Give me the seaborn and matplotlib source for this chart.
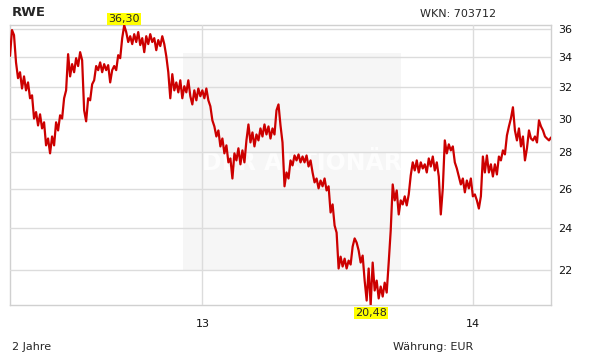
import numpy as np
import pandas as pd
import matplotlib
matplotlib.use("Agg")
import matplotlib.pyplot as plt
from matplotlib.patches import Rectangle
import seaborn as sns

# ---- data ----
start_date = "2012-04-16"
end_date = "2014-04-17"
prices = [
    34.10, 35.95, 35.58, 33.65, 32.58, 32.98, 31.90, 32.70, 31.78, 32.30,
    31.27, 31.46, 30.00, 30.40, 29.58, 30.26, 29.40, 29.77, 28.40, 28.80,
    27.94, 28.92, 28.40, 29.77, 29.28, 30.20, 30.00, 31.27, 31.78, 34.22,
    32.70, 33.53, 32.98, 33.94, 33.40, 34.36, 33.80, 30.51, 29.83, 31.27,
    31.14, 32.18, 32.44, 33.40, 33.12, 33.65, 32.98, 33.53, 33.12, 33.46,
    32.30, 33.12, 33.40, 33.12, 34.15, 33.94, 35.36, 36.30, 35.80, 35.08,
    35.50, 34.93, 35.65, 35.08, 35.80, 34.86, 35.36, 34.36, 35.50, 34.93,
    35.65, 35.08, 35.36, 34.50, 35.22, 34.79, 35.50, 34.93, 34.08, 32.98,
    31.27, 32.85, 31.78, 32.30, 31.65, 32.44, 31.27, 32.05, 31.65, 32.44,
    31.40, 30.88, 31.78, 31.14, 31.90, 31.40, 31.78, 31.27, 31.90, 31.14,
    30.76, 29.89, 29.52, 28.92, 29.28, 28.34, 28.80, 27.94, 28.40, 27.43,
    27.65, 26.54, 27.94, 27.54, 28.23, 27.32, 28.11, 27.43, 28.69, 29.64,
    28.57, 29.16, 28.34, 29.04, 28.69, 29.40, 28.92, 29.64, 29.04, 29.52,
    28.80, 29.40, 29.04, 30.51, 30.88, 29.58, 28.57, 26.12, 26.87, 26.54,
    27.54, 27.26, 27.82, 27.54, 27.88, 27.43, 27.76, 27.43, 27.82, 27.20,
    27.54, 26.87, 26.33, 26.54, 26.01, 26.43, 26.12, 26.54, 25.90, 26.12,
    24.76, 25.17, 24.11, 23.76, 22.08, 22.62, 22.17, 22.53, 22.08, 22.44,
    22.26, 23.09, 23.48, 23.28, 22.91, 22.35, 22.67, 21.54, 20.68, 22.08,
    20.48, 22.35, 21.11, 21.54, 20.77, 21.28, 20.85, 21.45, 21.02, 22.35,
    23.86, 26.22, 25.38, 25.90, 24.66, 25.38, 25.17, 25.59, 25.12, 25.69,
    26.71, 27.43, 26.98, 27.54, 26.87, 27.43, 27.09, 27.32, 26.87, 27.65,
    27.20, 27.76, 26.98, 27.43, 26.65, 24.66, 26.01, 28.69, 27.94, 28.46,
    28.11, 28.34, 27.43, 27.09, 26.65, 26.22, 26.54, 25.80, 26.43, 26.01,
    26.54, 25.59, 25.69, 25.38, 24.96, 25.59, 27.76, 26.87, 27.82, 26.87,
    27.32, 26.65, 27.32, 26.76, 27.76, 27.54, 28.11, 27.88, 28.98, 29.52,
    30.01, 30.70, 29.28, 28.69, 29.40, 28.34, 28.92, 27.54, 28.23, 29.28,
    28.80, 28.69, 28.92, 28.57, 29.89, 29.52, 29.28, 28.92, 28.80, 28.69,
    28.86,
]
y_ticks = [22, 24, 26, 28, 30, 32, 34, 36]
x_ticks = ["2013-01-01", "2014-01-01"]
x_tick_labels = ["13", "14"]

dates = pd.date_range(start_date, end_date, periods=len(prices))
df = pd.DataFrame({"date": dates, "price": prices})

sns.set_theme(style="white")
plt.rcParams["font.family"] = ["DejaVu Sans"]

W, H = 611, 364
fig = plt.figure(figsize=(W / 100, H / 100), dpi=100)
fig.patch.set_facecolor("white")
ax = fig.add_axes([10 / W, (H - 305.3) / H, (551 - 10) / W, (305.3 - 25.3) / H])
ax.set_facecolor("white")

# watermark box and text
ax.add_patch(Rectangle((0.320, 0.126), 0.403, 0.774, transform=ax.transAxes,
                       facecolor="#f6f6f6", edgecolor="none", zorder=0))
ax.text(0.54, 0.51, "DER AKTIONÄR", transform=ax.transAxes, ha="center",
        va="center", fontsize=17, fontweight="bold", color="#fdfdfd", zorder=1)

sns.lineplot(data=df, x="date", y="price", ax=ax, color="#cc0000",
             linewidth=1.6, zorder=3)

ax.set_yscale("log")
ax.set_ylim(min(prices), max(prices))
ax.set_xlim(pd.Timestamp(start_date), pd.Timestamp(end_date))
ax.yaxis.set_major_locator(matplotlib.ticker.FixedLocator(y_ticks))
ax.yaxis.set_minor_locator(matplotlib.ticker.NullLocator())
ax.yaxis.set_major_formatter(matplotlib.ticker.FixedFormatter([str(t) for t in y_ticks]))
ax.yaxis.tick_right()
ax.set_xticks([pd.Timestamp(t) for t in x_ticks])
ax.set_xticklabels(x_tick_labels)
ax.tick_params(axis="both", length=0, labelsize=8, colors="#111111")
ax.tick_params(axis="y", pad=5)
ax.tick_params(axis="x", pad=10)
ax.grid(True, color="#dcdcdc", linewidth=1, zorder=2)
ax.set_axisbelow(False)
for s in ax.spines.values():
    s.set_color("#d0d0d0")
    s.set_linewidth(1)
ax.set_xlabel("")
ax.set_ylabel("")

# max / min labels
imax = int(np.argmax(prices))
imin = int(np.argmin(prices))
box = dict(boxstyle="square,pad=0.1", facecolor="#ffff00", edgecolor="none")
ax.annotate("36,30", (dates[imax], prices[imax]), xytext=(0, 1),
            textcoords="offset points", ha="center", va="bottom",
            fontsize=8, bbox=box, annotation_clip=False, zorder=5)
ax.annotate("20,48", (dates[imin], prices[imin]), xytext=(0, -2),
            textcoords="offset points", ha="center", va="top",
            fontsize=8, bbox=box, annotation_clip=False, zorder=5)

fig.text(12 / W, 1 - 13 / H, "RWE", fontsize=9.5, fontweight="bold",
         ha="left", va="center")
fig.text(420 / W, 1 - 14 / H, "WKN: 703712", fontsize=8, ha="left", va="center")
fig.text(12 / W, 1 - 347 / H, "2 Jahre", fontsize=8, ha="left", va="center")
fig.text(393 / W, 1 - 347 / H, "Währung: EUR", fontsize=8, ha="left", va="center")

fig.savefig("out.png", dpi=100, facecolor="white")
